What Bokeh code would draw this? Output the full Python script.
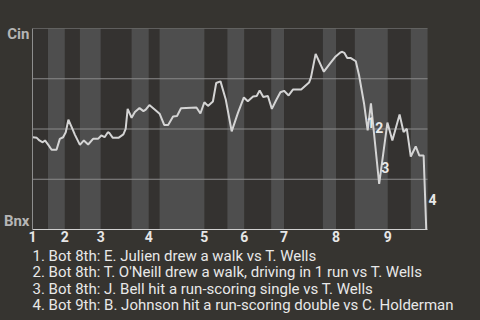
from bokeh.plotting import figure
from bokeh.models import (ColumnDataSource, FixedTicker, LabelSet, LinearAxis,
                          Range1d, Title)
from bokeh.core.properties import value
from bokeh.embed import file_html
from bokeh.resources import INLINE

# ---- data (x = play index across the game, y = Cincinnati win probability) ----
wp_x = [0.1, 1.3, 2.1, 3.1, 3.8, 4.8, 5.8, 7.3, 8.3, 9.3, 10.1, 10.9, 11.9, 12.9,
        14.4, 15.6, 16.9, 18.4, 19.9, 20.9, 21.9, 22.9, 23.4, 24.4, 26.1, 27.6,
        28.3, 28.9, 30.1, 31.1, 32.5, 33.7, 34.4, 35.5, 37.2, 38.6, 40.0, 41.2,
        42.7, 43.9, 45.1, 49.8, 51.0, 52.2, 53.3, 54.8, 55.8, 57.1, 58.7, 60.5,
        62.4, 64.2, 65.4, 67.0, 68.1, 69.0, 70.1, 71.5, 72.7, 74.0, 75.3, 76.4,
        77.8, 79.1, 81.6, 84.0, 84.6, 86.0, 88.5, 90.4, 91.9, 93.5, 94.1, 94.7,
        95.6, 96.7, 98.2, 99.2, 100.7, 101.8, 102.8, 105.3, 107.8, 109.3, 111.5,
        112.7, 113.7, 114.9, 116.4, 117.5, 118.8, 119.6]
wp_y = [0.459, 0.456, 0.443, 0.434, 0.443, 0.421, 0.397, 0.397, 0.451, 0.459,
        0.484, 0.546, 0.509, 0.471, 0.421, 0.443, 0.423, 0.451, 0.451, 0.468,
        0.459, 0.484, 0.479, 0.456, 0.456, 0.473, 0.501, 0.600, 0.556, 0.584,
        0.604, 0.589, 0.596, 0.619, 0.596, 0.576, 0.520, 0.520, 0.562, 0.565,
        0.603, 0.607, 0.577, 0.633, 0.615, 0.637, 0.729, 0.737, 0.647, 0.488,
        0.580, 0.657, 0.638, 0.662, 0.664, 0.692, 0.659, 0.664, 0.600, 0.643,
        0.683, 0.690, 0.667, 0.696, 0.696, 0.731, 0.758, 0.874, 0.785, 0.826,
        0.858, 0.881, 0.884, 0.879, 0.853, 0.853, 0.837, 0.766, 0.627, 0.493,
        0.628, 0.227, 0.532, 0.443, 0.572, 0.485, 0.501, 0.363, 0.413, 0.368,
        0.368, 0.0]

inning_labels = ["1", "2", "3", "4", "5", "6", "7", "8", "9"]
top_start = [0, 9.8, 20.7, 35.3, 52.2, 64.3, 76.4, 92.2, 107.9]
bottom_start = [4.7, 14.4, 30.1, 38.6, 59.2, 72.5, 88.2, 97.9, 114.9]
game_end = 120
wp_gridlines = [0.25, 0.5, 0.75, 1.0]

team_top = "Cin"
team_bottom = "Bnx"

event_num = ["1", "2", "3", "4"]
event_x = [101.5, 104.1, 105.9, 120.3]
event_y = [0.532, 0.507, 0.308, 0.149]
event_text = [
    "1. Bot 8th: E. Julien drew a walk vs T. Wells",
    "2. Bot 8th: T. O'Neill drew a walk, driving in 1 run vs T. Wells",
    "3. Bot 8th: J. Bell hit a run-scoring single vs T. Wells",
    "4. Bot 9th: B. Johnson hit a run-scoring double vs C. Holderman",
]

# ---- style ----
BG = "#363430"
DARK = "#343230"
LIGHT = "#4e4e4e"
FONT = "Roboto"
X_PAD = 10  # empty room right of the game so the last marker label shows

# the page colour comes from CSS so no border fill (and its seam) is painted
p = figure(width=480, height=320, x_range=(0, game_end + X_PAD),
           y_range=(0, 1), output_backend="svg", toolbar_location=None,
           y_axis_location=None, min_border_left=31, min_border_right=20,
           min_border_top=28, min_border_bottom=91, background_fill_color=BG,
           border_fill_color=None)
p.styles = {"background-color": BG}
p.outline_line_color = None

# half-inning shading: top halves dark, bottom halves light
dark = ColumnDataSource(dict(left=top_start, right=bottom_start))
light = ColumnDataSource(dict(left=bottom_start,
                              right=top_start[1:] + [game_end]))
p.quad(left="left", right="right", bottom=0, top=1, source=dark,
       fill_color=DARK, line_color=None, level="image")
p.quad(left="left", right="right", bottom=0, top=1, source=light,
       fill_color=LIGHT, line_color=None, level="image")

# horizontal reference lines, only across the game
for g in p.grid:
    g.visible = False
p.segment(x0=0, x1=game_end, y0=wp_gridlines, y1=wp_gridlines,
          line_color="#8a8a8a", line_width=1)

p.line(wp_x, wp_y, line_color="#d4d4d4", line_width=2)

# inning numbers along the bottom
ax = p.xaxis[0]
ax.ticker = FixedTicker(ticks=top_start)
ax.major_label_overrides = {t: lab for t, lab in zip(top_start, inning_labels)}
ax.bounds = (0, game_end)
ax.major_tick_line_color = None
ax.minor_tick_line_color = None
ax.major_tick_out = 0
ax.major_tick_in = 0
ax.axis_line_color = "#cfcfcf"
ax.major_label_text_font = FONT
ax.major_label_text_font_style = "bold"
ax.major_label_text_font_size = "14px"
ax.major_label_text_color = "#e6e6e6"
ax.major_label_text_align = "left"
ax.major_label_standoff = 1

# team names on the left (slightly inset from the top / bottom edges)
p.extra_y_ranges = {"teams": Range1d(-0.048, 1.032)}
yax = LinearAxis(y_range_name="teams", ticker=FixedTicker(ticks=[0, 1]),
                 major_label_overrides={0: team_bottom, 1: team_top})
yax.major_tick_line_color = None
yax.minor_tick_line_color = None
yax.major_tick_out = 0
yax.major_tick_in = 0
yax.axis_line_color = "#8e8e8e"
yax.major_label_text_font = FONT
yax.major_label_text_font_style = "bold"
yax.major_label_text_font_size = "15px"
yax.major_label_text_color = "#b5b5b5"
yax.major_label_standoff = 3
p.add_layout(yax, "left")

# numbered markers for the key plays
ev = ColumnDataSource(dict(x=event_x, y=event_y, t=event_num))
p.add_layout(LabelSet(x="x", y="y", text="t", source=ev, text_align="left",
                      text_baseline="middle", text_font=value(FONT),
                      text_font_style="bold", text_font_size="14px",
                      text_color="#e8e8e8"))

# caption listing the key plays
cap = Title(text="\n".join(event_text), align="left", text_font=FONT,
            text_font_size="15px", text_font_style="normal",
            text_color="#e8e8e8", text_line_height=0.92, standoff=0)
p.add_layout(cap, "below")

open("out.html", "w").write(file_html(p, INLINE))
